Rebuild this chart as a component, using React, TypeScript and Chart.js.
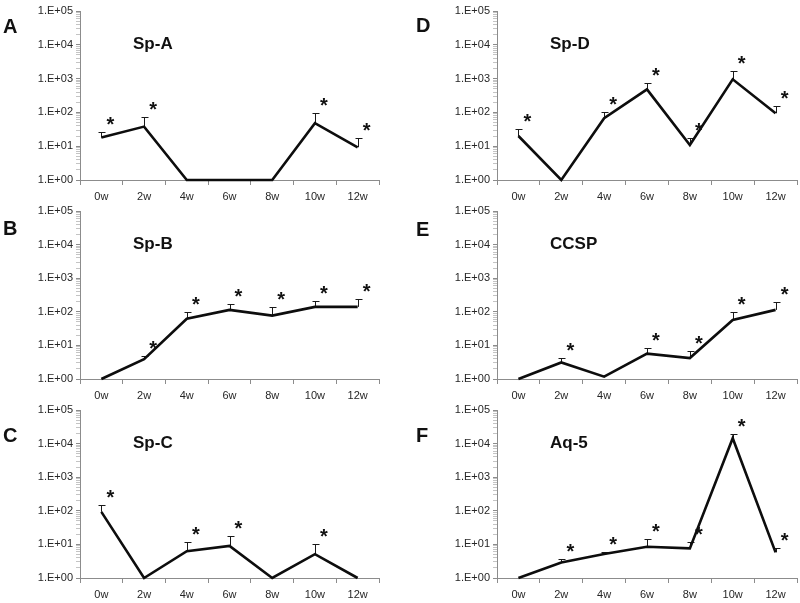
import React, { useEffect, useRef } from 'react';
import { Chart, registerables } from 'chart.js';

Chart.register(...registerables);

// ---------- data ----------
const weeks = ['0w', '2w', '4w', '6w', '8w', '10w', '12w'];
const yMajorTicks = [1, 10, 100, 1000, 10000, 100000];
const yTickLabels = ['1.E+00', '1.E+01', '1.E+02', '1.E+03', '1.E+04', '1.E+05'];

const spAValues = [18, 38, 1, 1, 1, 48, 9.3];
const spAUpper = [26, 72, null, null, null, 95, 18];
const spAStars = [true, true, false, false, false, true, true];

const spBValues = [1, 3.9, 62, 114, 77, 140, 140];
const spBUpper = [null, 4.7, 97, 175, 137, 210, 237];
const spBStars = [false, true, true, true, true, true, true];

const spCValues = [93, 1, 6.3, 9, 1, 5.1, 1];
const spCUpper = [145, null, 11.9, 17.9, null, 10.4, null];
const spCStars = [true, false, true, true, false, true, false];

const spDValues = [20, 1, 67, 480, 10.8, 950, 94];
const spDUpper = [32, null, 105, 760, 18, 1700, 158];
const spDStars = [true, false, true, true, true, true, true];

const ccspValues = [1, 3.1, 1.17, 5.7, 4.2, 57, 114];
const ccspUpper = [null, 4.2, null, 8.3, 6.8, 101, 193];
const ccspStars = [false, true, false, true, true, true, true];

const aq5Values = [1, 2.9, 5.2, 8.5, 7.6, 14500, 5.8];
const aq5Upper = [null, 3.7, 6.0, 14.4, 12, 19800, 7.9];
const aq5Stars = [false, true, true, true, true, true, true];

// ---------- layout (page pixels) ----------
type Panel = {
  letter: string;
  title: string;
  values: number[];
  upper: (number | null)[];
  stars: boolean[];
  box: { left: number; top: number; width: number; height: number };
  area: { left: number; right: number; top: number; bottom: number };
  letterX: number;
  letterY: number;
};

const panels: Panel[] = [
  { letter: 'A', title: 'Sp-A', values: spAValues, upper: spAUpper, stars: spAStars,
    box: { left: 0, top: 0, width: 400, height: 200 }, area: { left: 80, right: 379, top: 11, bottom: 180 }, letterX: 3, letterY: 27 },
  { letter: 'B', title: 'Sp-B', values: spBValues, upper: spBUpper, stars: spBStars,
    box: { left: 0, top: 200, width: 400, height: 200 }, area: { left: 80, right: 379, top: 211, bottom: 379 }, letterX: 3, letterY: 229 },
  { letter: 'C', title: 'Sp-C', values: spCValues, upper: spCUpper, stars: spCStars,
    box: { left: 0, top: 400, width: 400, height: 203 }, area: { left: 80, right: 379, top: 410, bottom: 578 }, letterX: 3, letterY: 436 },
  { letter: 'D', title: 'Sp-D', values: spDValues, upper: spDUpper, stars: spDStars,
    box: { left: 400, top: 0, width: 400, height: 200 }, area: { left: 497, right: 797, top: 11, bottom: 180 }, letterX: 416, letterY: 26 },
  { letter: 'E', title: 'CCSP', values: ccspValues, upper: ccspUpper, stars: ccspStars,
    box: { left: 400, top: 200, width: 400, height: 200 }, area: { left: 497, right: 797, top: 211, bottom: 379 }, letterX: 416, letterY: 230 },
  { letter: 'F', title: 'Aq-5', values: aq5Values, upper: aq5Upper, stars: aq5Stars,
    box: { left: 400, top: 400, width: 400, height: 203 }, area: { left: 497, right: 797, top: 410, bottom: 578 }, letterX: 416, letterY: 436 },
];

const FONT = "'Liberation Sans', Arial, sans-serif";

function PanelChart({ p }: { p: Panel }) {
  const ref = useRef<HTMLCanvasElement | null>(null);

  useEffect(() => {
    if (!ref.current) return;
    const b = p.box;
    const a = p.area;

    const annot = {
      id: 'annot_' + p.letter,
      beforeDatasetsDraw(chart: any) {
        const ctx = chart.ctx;
        const xs = chart.scales.x;
        const ys = chart.scales.y;
        ctx.save();
        ctx.strokeStyle = '#1a1a1a';
        ctx.lineWidth = 1;
        p.upper.forEach((u, i) => {
          if (u == null) return;
          const x = Math.round(xs.getPixelForValue(i)) + 0.5;
          const y0 = ys.getPixelForValue(p.values[i]);
          const y1 = Math.round(ys.getPixelForValue(u)) + 0.5;
          ctx.beginPath();
          ctx.moveTo(x, y0);
          ctx.lineTo(x, y1);
          ctx.moveTo(x - 3, y1);
          ctx.lineTo(x + 4, y1);
          ctx.stroke();
        });
        ctx.restore();
      },
      afterDatasetsDraw(chart: any) {
        const ctx = chart.ctx;
        const xs = chart.scales.x;
        const ys = chart.scales.y;
        ctx.save();
        // asterisks
        ctx.fillStyle = '#111';
        ctx.font = `bold 20px ${FONT}`;
        ctx.textAlign = 'center';
        ctx.textBaseline = 'alphabetic';
        const m = ctx.measureText('*');
        const asc = m.actualBoundingBoxAscent;
        const desc = m.actualBoundingBoxDescent;
        p.stars.forEach((s, i) => {
          if (!s) return;
          const top = p.upper[i] != null ? (p.upper[i] as number) : p.values[i];
          const cx = xs.getPixelForValue(i) + 9;
          const cy = ys.getPixelForValue(top) - 11;
          ctx.fillText('*', cx, cy + (asc - desc) / 2);
        });
        // title
        ctx.textAlign = 'left';
        ctx.textBaseline = 'middle';
        ctx.font = `bold 17px ${FONT}`;
        ctx.fillText(p.title, chart.chartArea.left + 53, chart.chartArea.top + 33);
        // panel letter
        ctx.font = `bold 20px ${FONT}`;
        ctx.fillText(p.letter, p.letterX - b.left, p.letterY - b.top);
        ctx.restore();
      },
    };

    const chart = new Chart(ref.current, {
      type: 'line',
      data: {
        labels: weeks,
        datasets: [
          {
            data: p.values,
            borderColor: '#0d0d0d',
            borderWidth: 2.6,
            pointRadius: 0,
            tension: 0,
            fill: false,
            clip: false as any,
          },
        ],
      },
      options: {
        responsive: false,
        animation: false,
        events: [],
        layout: {
          padding: {
            left: 0,
            top: a.top - b.top,
            right: b.left + b.width - a.right,
            bottom: 0,
          },
        },
        plugins: {
          legend: { display: false },
          tooltip: { enabled: false },
          title: { display: false },
        },
        scales: {
          x: {
            type: 'category',
            offset: true,
            grid: {
              offset: true,
              drawOnChartArea: false,
              drawTicks: true,
              tickLength: 5,
              tickColor: '#8c8c8c',
            },
            border: { display: true, color: '#8c8c8c', width: 1 },
            ticks: {
              color: '#262626',
              font: { family: FONT, size: 11 },
              padding: 5,
              maxRotation: 0,
              autoSkip: false,
            },
            afterFit(scale: any) {
              scale.height = b.top + b.height - a.bottom;
            },
          },
          y: {
            type: 'logarithmic',
            min: 1,
            max: 100000,
            grid: {
              drawOnChartArea: false,
              drawTicks: true,
              tickLength: 4,
              tickColor: (ctx: any) => (ctx.tick && yMajorTicks.includes(ctx.tick.value) ? '#8c8c8c' : '#c4c4c4'),
            },
            border: { display: true, color: '#8c8c8c', width: 1 },
            ticks: {
              color: '#262626',
              font: { family: FONT, size: 11 },
              padding: 3,
              autoSkip: false,
              callback: (v: any) => {
                const idx = yMajorTicks.indexOf(Number(v));
                return idx >= 0 ? yTickLabels[idx] : '';
              },
            },
            afterBuildTicks(scale: any) {
              const t: any[] = [];
              yMajorTicks.forEach((mv, k) => {
                t.push({ value: mv, major: true });
                if (k < yMajorTicks.length - 1) {
                  for (let s = 2; s <= 9; s++) t.push({ value: mv * s, major: false });
                }
              });
              scale.ticks = t;
            },
            afterFit(scale: any) {
              scale.width = a.left - b.left;
            },
          },
        },
      },
      plugins: [annot],
    });
    return () => chart.destroy();
  }, [p]);

  return (
    <canvas
      ref={ref}
      width={p.box.width}
      height={p.box.height}
      style={{
        position: 'absolute',
        left: p.box.left,
        top: p.box.top,
        width: p.box.width,
        height: p.box.height,
        display: 'block',
      }}
    />
  );
}

export default function App() {
  return (
    <div
      style={{
        position: 'absolute',
        left: 0,
        top: 0,
        width: 800,
        height: 603,
        background: '#ffffff',
        overflow: 'hidden',
      }}
    >
      {panels.map((p) => (
        <PanelChart key={p.letter} p={p} />
      ))}
    </div>
  );
}
